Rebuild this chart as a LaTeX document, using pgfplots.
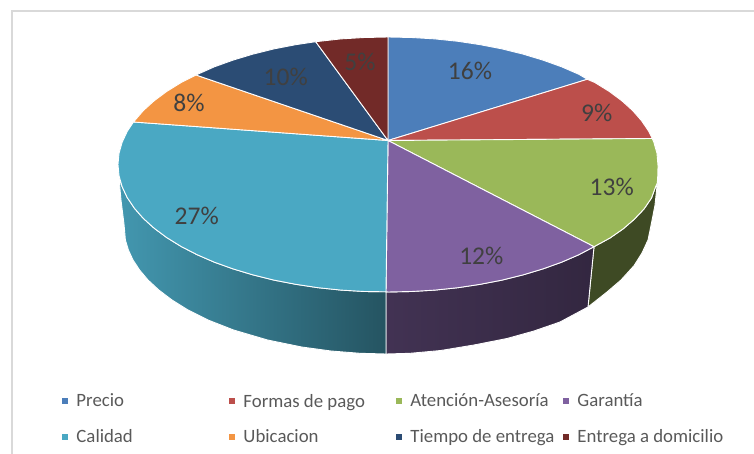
\documentclass[border=0pt]{standalone}
\usepackage{fontspec}
\setmainfont{Carlito}
\usepackage{pgfplots}
\pgfplotsset{compat=1.18}
\definecolor{cPrecio}{HTML}{4C7EBA}
\definecolor{cFormas}{HTML}{BC4F4B}
\definecolor{cAtencion}{HTML}{9AB859}
\definecolor{cGarantia}{HTML}{7F61A0}
\definecolor{cCalidad}{HTML}{4AA8C3}
\definecolor{cUbicacion}{HTML}{F39543}
\definecolor{cTiempo}{HTML}{2B4C74}
\definecolor{cEntrega}{HTML}{722A28}
\definecolor{lab}{HTML}{404040}
\definecolor{legtext}{HTML}{595959}
\newcommand{\lbox}[1]{\makebox[152.5pt][l]{#1}}
\newcommand{\dlab}[3]{\node[text=lab,font=\fontsize{25.5}{25.5}\selectfont,inner sep=0pt] at (axis cs:#1,#2) {#3\%};}
\pgfplotsset{
  slice/.style={draw=white,line width=0.9pt,line join=round,fill=#1},
  wall/.style={draw=white,line width=0.9pt,line join=round,forget plot},
}
\begin{document}
\begin{tikzpicture}
\path[use as bounding box] (0,0) rectangle (754pt,454pt);
\begin{axis}[
  at={(0,0)},anchor=south west,
  scale only axis,width=754pt,height=454pt,
  xmin=0,xmax=754,ymin=0,ymax=454,y dir=reverse,
  hide axis,clip=false,
  legend columns=4,
  legend cell align=left,
  legend image code/.code={\path[fill=#1,draw=none] (0pt,-3.2pt) rectangle (6.5pt,3.2pt);},
  legend style={at={(axis description cs:0.0822,0.1322)},anchor=north west,draw=none,fill=none,
    inner sep=0pt,outer sep=0pt,text=legtext,font=\fontsize{18.8}{18.8}\selectfont,
    /tikz/column sep=0pt,/tikz/row sep=21pt,
    nodes={inner sep=0pt,outer sep=0pt},
    /tikz/every odd column/.style={column sep=8pt}},
]
% frame
\addplot[color=black!15,line width=1.5pt,forget plot] coordinates {(754,11)(12,11)(12,454)};
% side walls
\addplot[wall,fill=cAtencion!40!black] coordinates {
(657.3,183)(655.5,187)(651.5,198)(644,209)(634,219.5)(623,229)(610,238)(594,246.7)
(588,307)(607,292)(621,280)(634,265.7)(642,253)(648,240)(651.3,224)(655,205)} -- cycle;
\addplot[wall,left color=cGarantia!52!black,right color=cGarantia!40!black] coordinates {
(594,246.7)(578.9,254.7)(561.6,262.2)(542.9,268.9)(523,274.9)(502.1,280.1)(480.3,284.3)(457.9,287.7)(434.9,290.1)(411.5,291.5)(388,292)(386,291.8)
(386,354)(410,353.3)(440.7,350.5)(474,345)(507,338.5)(534,331)(560,322)(588,307)} -- cycle;
\addplot[wall,left color=cCalidad!90!black,middle color=cCalidad!78!black,right color=cCalidad!50!black] coordinates {
(386,291.8)(364.5,291.5)(341.1,290.1)(318.1,287.7)(295.7,284.3)(273.9,280.1)(253,274.9)(233.1,268.9)(214.4,262.2)(197.1,254.7)(181.2,246.5)(166.8,237.6)(154.2,228.25)(143.3,218.4)(134.3,208.1)(127.2,197.5)(122.1,186.6)(119,178)
(121,200)(124,224)(125.4,240)(128.4,250)(133,260)(139.6,270)(148,280)(158.8,290)(172,300)(188,310)(208,320)(233.6,330)(267.6,340)(301.7,347)(331,351)(360,353.3)(386,354)} -- cycle;
% top slices
\addplot[slice=cPrecio] coordinates {(388,140.5)(388,37)(411.5,37.5)(434.9,38.9)(457.9,41.3)(480.3,44.7)(502.1,48.9)(523,54.1)(542.9,60.1)(561.6,66.8)(578.9,74.3)(587.3,79.3)} -- cycle;
\addlegendentry{\lbox{Precio}}
\addplot[slice=cFormas] coordinates {(388,140.5)(587.3,79.3)(594.8,82.5)(609.2,91.4)(621.8,100.75)(632.7,110.6)(641.7,120.9)(648.8,131.5)(652.3,138.5)} -- cycle;
\addlegendentry{\lbox{Formas de pago}}
\addplot[slice=cAtencion] coordinates {(388,140.5)(652.3,138.5)(653.9,142.4)(657,153.4)(658,166)(657.8,175)(657.3,183)(655.5,187)(651.5,198)(644,209)(634,219.5)(623,229)(610,238)(594,246.7)} -- cycle;
\addlegendentry{\lbox{Atención-Asesoría}}
\addplot[slice=cGarantia] coordinates {(388,140.5)(594,246.7)(578.9,254.7)(561.6,262.2)(542.9,268.9)(523,274.9)(502.1,280.1)(480.3,284.3)(457.9,287.7)(434.9,290.1)(411.5,291.5)(388,292)(386,291.8)} -- cycle;
\addlegendentry{\lbox{Garantía}}
\addplot[slice=cCalidad] coordinates {(388,140.5)(386,291.8)(364.5,291.5)(341.1,290.1)(318.1,287.7)(295.7,284.3)(273.9,280.1)(253,274.9)(233.1,268.9)(214.4,262.2)(197.1,254.7)(181.2,246.5)(166.8,237.6)(154.2,228.25)(143.3,218.4)(134.3,208.1)(127.2,197.5)(122.1,186.6)(119,175.6)(118,164.5)(119,153.4)(122.1,142.4)(127.2,131.5)(133.5,122)} -- cycle;
\addlegendentry{\lbox{Calidad}}
\addplot[slice=cUbicacion] coordinates {(388,140.5)(133.5,122)(143.3,110.6)(154.2,100.75)(166.8,91.4)(181.2,82.5)(196,75)} -- cycle;
\addlegendentry{\lbox{Ubicacion}}
\addplot[slice=cTiempo] coordinates {(388,140.5)(196,75)(214.4,66.8)(233.1,60.1)(253,54.1)(273.9,48.9)(295.7,44.7)(315.7,41.7)} -- cycle;
\addlegendentry{\lbox{Tiempo de entrega}}
\addplot[slice=cEntrega] coordinates {(388,140.5)(315.7,41.7)(341.1,38.9)(364.5,37.5)(388,37)} -- cycle;
\addlegendentry{\lbox{Entrega a domicilio}}
% data labels
\dlab{470}{70.7}{16}
\dlab{596.7}{112.7}{9}
\dlab{611.7}{186.7}{13}
\dlab{481.3}{255.7}{12}
\dlab{196.7}{216}{27}
\dlab{189}{103.3}{8}
\dlab{285.7}{76.7}{10}
\dlab{360}{62.3}{5}
\end{axis}
\end{tikzpicture}
\end{document}
